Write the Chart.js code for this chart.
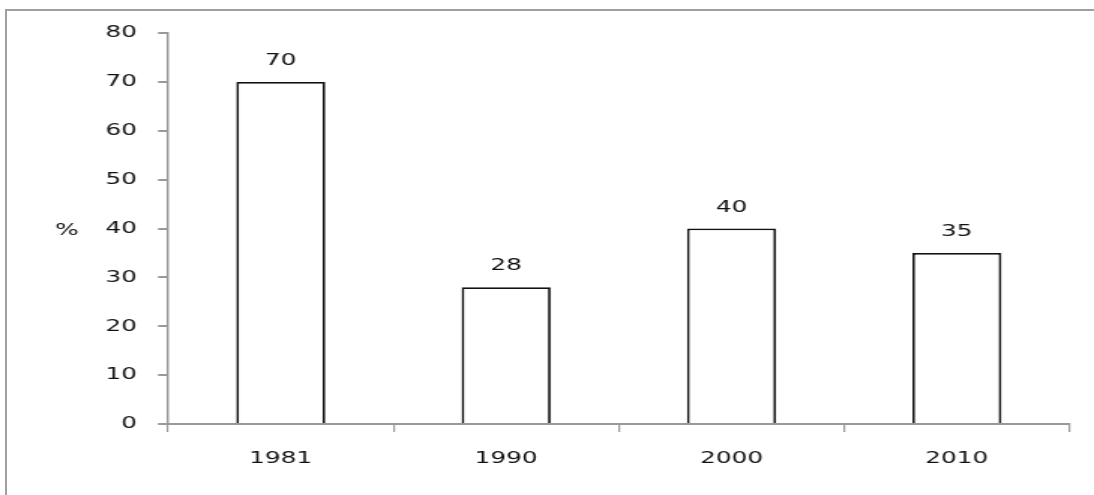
<!DOCTYPE html>
<html>
<head>
<meta charset="utf-8">
<script src="https://cdn.jsdelivr.net/npm/chart.js@4/dist/chart.umd.min.js"></script>
<style>
    html, body { margin: 0; padding: 0; background: #fff; }
    #frame {
        position: absolute; left: 5px; top: 9px; width: 1200px; height: 600px;
        border-left: 2px solid #a0a0a0; border-top: 2px solid #a0a0a0;
    }
    /* the reference picture is stretched sideways, so the canvas is too */
    #chartCanvas {
        position: absolute; left: 0; top: 0;
        width: 1094px !important; height: 495px !important;
    }
</style>
</head>
<body>
<div id="frame"></div>
<canvas id="chartCanvas" width="729" height="495"></canvas>
<script>
const years = ['1981', '1990', '2000', '2010'];
const percentValues = [70, 28, 40, 35];
const yTicks = [0, 10, 20, 30, 40, 50, 60, 70, 80];
const axisTitle = '%';

const textColor = '#111';
const fontFamily = '"DejaVu Sans", Verdana, sans-serif';

// value labels over each bar, plus the "%" beside the y axis
const labelsPlugin = {
    id: 'labelsPlugin',
    afterDatasetsDraw(chart) {
        const ctx = chart.ctx;
        ctx.save();
        ctx.font = '16.5px ' + fontFamily;
        ctx.fillStyle = textColor;
        ctx.textAlign = 'center';
        ctx.textBaseline = 'middle';
        chart.getDatasetMeta(0).data.forEach((bar, i) => {
            ctx.fillText(String(percentValues[i]), bar.x, bar.y - 21);
        });
        const yScale = chart.scales.y;
        ctx.fillText(axisTitle, 44.7, yScale.getPixelForValue(40) + 2);
        ctx.restore();
    }
};

const ctx = document.getElementById('chartCanvas').getContext('2d');
window.myChart = new Chart(ctx, {
    type: 'bar',
    data: {
        labels: years,
        datasets: [{
            label: '%',
            data: percentValues,
            backgroundColor: '#ffffff',
            borderColor: '#111111',
            borderWidth: 1.8,
            barPercentage: 0.395,
            categoryPercentage: 1
        }]
    },
    options: {
        responsive: false,
        animation: false,
        devicePixelRatio: 1,
        layout: { padding: { left: 0, right: 16.3, top: 33, bottom: 0 } },
        plugins: {
            legend: { display: false },
            tooltip: { enabled: false }
        },
        scales: {
            x: {
                offset: true,
                grid: {
                    display: true,
                    offset: true,
                    drawOnChartArea: false,
                    tickLength: 8,
                    color: '#999',
                    lineWidth: 1.2
                },
                border: { color: '#999', width: 2 },
                ticks: {
                    color: textColor,
                    font: { family: fontFamily, size: 16.5 },
                    padding: 17,
                    maxRotation: 0
                },
                afterFit(scale) { scale.height = 71; }
            },
            y: {
                min: 0,
                max: 80,
                afterBuildTicks(scale) { scale.ticks = yTicks.map(v => ({ value: v })); },
                grid: {
                    display: true,
                    drawOnChartArea: false,
                    tickLength: 6.7,
                    color: '#999',
                    lineWidth: 2
                },
                border: { color: '#999', width: 1.5 },
                ticks: {
                    color: textColor,
                    font: { family: fontFamily, size: 16.5 },
                    padding: 14
                },
                afterFit(scale) { scale.width = 112; }
            }
        }
    },
    plugins: [labelsPlugin]
});
</script>
</body>
</html>
